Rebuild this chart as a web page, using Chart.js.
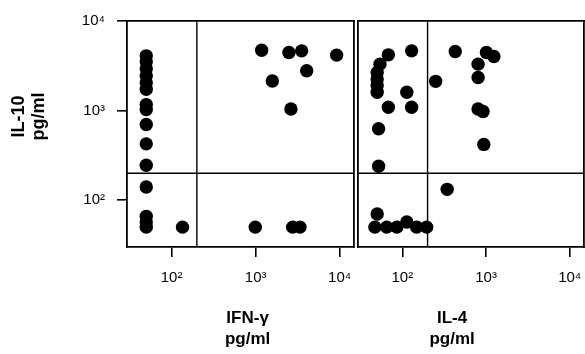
<!DOCTYPE html>
<html><head><meta charset="utf-8">
<script src="https://cdn.jsdelivr.net/npm/chart.js@4"></script>
<style>
html,body{margin:0;padding:0;background:#fff;width:585px;height:354px;overflow:hidden;}
#wrapL{position:absolute;left:0;top:0;width:356px;height:354px;}
#wrapR{position:absolute;left:356px;top:0;width:229px;height:354px;}
</style></head><body>
<div id="wrapL"><canvas id="cL" width="356" height="354"></canvas></div>
<div id="wrapR"><canvas id="cR" width="229" height="354"></canvas></div>
<script>
// tick values and labels (log decades)
const tickValues = [100, 1000, 10000];
const tickLabels = ['10²', '10³', '10⁴'];
const cutoff = 200;
const xRange = [29.5, 14800];
const yRange = [30, 10000];

// IFN-γ (x) vs IL-10 (y), pg/ml
const ifnX = [50,50,50,50,50,50, 50,50, 50,50,50, 50, 50,50,50, 135, 1180,2490,3530,9200,4050,1580,2630, 990,2760,3370];
const ifnY = [4085,3500,2930,2450,2045,1733, 1166,1026, 700,425,245, 140, 66,57,50, 50, 4720,4450,4640,4160,2780,2140,1040, 50,50,50];

// IL-4 (x) vs IL-10 (y), pg/ml
const il4X = [68,54,50,50,50,50, 68,52,52, 129,113,129, 250,428,1010,1240,803,803,803,920,940, 343, 50, 47,65,86,113,148,195];
const il4Y = [4190,3300,2670,2250,1900,1600, 1090,627,239, 4640,1600,1090, 2120,4560,4450,4010,3300,2340,1040,975,419, 132, 70, 50,50,50,57,50,50];

const yTitle = ['       IL-10', '       pg/ml'];
const xTitleL = ['   IFN-γ', '   pg/ml'];
const xTitleR = ['IL-4        ', 'pg/ml        '];

const FAM = '"Liberation Sans", Arial, Helvetica, sans-serif';

function pairs(xs, ys){ return xs.map((x,i)=>({x:x, y:ys[i]})); }
function decadeTicks(s){ s.ticks = tickValues.map(v=>({value:v})); }
function noPad(s){ s.paddingLeft = 0; s.paddingRight = 0; s.paddingTop = 0; s.paddingBottom = 0; }

function makeChart(id, xs, ys, xTitle, isLeft, pad){
  const lineDs = (data)=>({data:data, showLine:true, borderColor:'#000', borderWidth:1.4, pointRadius:0, clip:false});
  const scales = {
    x: {
      type:'logarithmic', min:xRange[0], max:xRange[1], position:'bottom',
      afterBuildTicks: decadeTicks,
      afterFit: s=>{ s.height = 107; noPad(s); },
      ticks:{autoSkip:false, maxRotation:0, padding:12, color:'#000',
        font:{family:FAM, size:15}, callback:(v,i)=>tickLabels[i]},
      grid:{display:true, drawOnChartArea:false, drawTicks:true, tickLength:10, color:'#000', lineWidth:1.6},
      border:{display:true, color:'#000', width:1.8},
      title:{display:true, text:xTitle, color:'#000',
        font:{family:FAM, size:17, weight:'bold', lineHeight:1.235}, padding:{top:0, bottom:4}}
    },
    x2: {
      type:'logarithmic', min:xRange[0], max:xRange[1], position:'top',
      afterFit: s=>{ s.height = 0; noPad(s); },
      ticks:{display:false}, grid:{display:false},
      border:{display:true, color:'#000', width:1.8}
    },
    y2: {
      type:'logarithmic', min:yRange[0], max:yRange[1], position:'right',
      afterFit: s=>{ s.width = 0; noPad(s); },
      ticks:{display:false}, grid:{display:false},
      border:{display:true, color:'#000', width:1.8}
    }
  };
  if (isLeft) {
    scales.y = {
      type:'logarithmic', min:yRange[0], max:yRange[1], position:'left',
      afterBuildTicks: decadeTicks,
      afterFit: s=>{ s.width = 127; noPad(s); },
      ticks:{autoSkip:false, padding:12, color:'#000',
        font:{family:FAM, size:15}, callback:(v,i)=>tickLabels[i]},
      grid:{display:true, drawOnChartArea:false, drawTicks:true, tickLength:10, color:'#000', lineWidth:1.6},
      border:{display:true, color:'#000', width:1.8},
      title:{display:true, text:yTitle, color:'#000',
        font:{family:FAM, size:18, weight:'bold', lineHeight:1.111}, padding:{top:9, bottom:0}}
    };
  } else {
    scales.y = {
      type:'logarithmic', min:yRange[0], max:yRange[1], position:'left',
      afterFit: s=>{ s.width = 0; noPad(s); },
      ticks:{display:false}, grid:{display:false},
      border:{display:true, color:'#000', width:1.8}
    };
  }
  return new Chart(document.getElementById(id), {
    type:'scatter',
    data:{datasets:[
      lineDs([{x:xRange[0], y:cutoff},{x:xRange[1], y:cutoff}]),
      lineDs([{x:cutoff, y:yRange[0]},{x:cutoff, y:yRange[1]}]),
      {data:pairs(xs, ys), backgroundColor:'#000', borderWidth:0, pointRadius:6.7, pointHoverRadius:6.7, clip:false}
    ]},
    options:{
      responsive:false, animation:false,
      layout:{padding:pad, autoPadding:false},
      plugins:{legend:{display:false}, tooltip:{enabled:false}},
      scales:scales
    }
  });
}

makeChart('cL', ifnX, ifnY, xTitleL, true, {left:0, top:21, right:2, bottom:0});
makeChart('cR', il4X, il4Y, xTitleR, false, {left:2, top:21, right:1, bottom:0});
</script>
</body></html>
